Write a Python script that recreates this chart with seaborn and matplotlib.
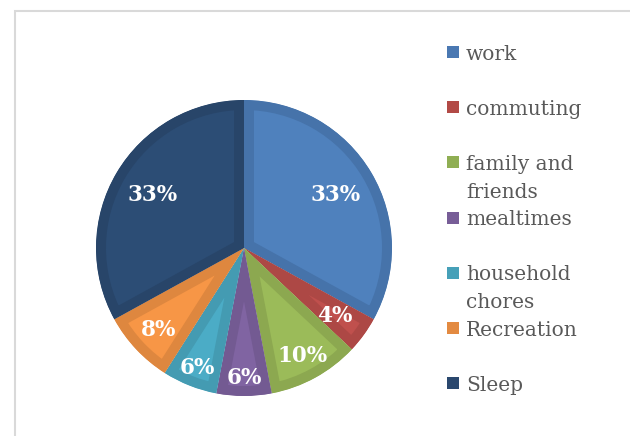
import numpy as np
import matplotlib
matplotlib.use("Agg")
import matplotlib.pyplot as plt
from matplotlib.patches import Rectangle
import seaborn as sns

# ---- data ----
categories = ["work", "commuting", "family and friends", "mealtimes",
              "household chores", "Recreation", "Sleep"]
legend_labels = ["work", "commuting", "family and\nfriends", "mealtimes",
                 "household\nchores", "Recreation", "Sleep"]
values = [33, 4, 10, 6, 6, 8, 33]

# ---- styles ----
inner_colors = ["#4F81BD", "#C0504D", "#9BBB59", "#8064A2",
                "#4BACC6", "#F79646", "#2C4D75"]
outer_colors = ["#4673AA", "#AD4845", "#8CA850", "#735A92",
                "#449BB2", "#DE873F", "#284569"]
legend_colors = ["#4A78B2", "#B24A46", "#8FAE53", "#775D97",
                 "#46A0B8", "#E38A41", "#2A486E"]
label_dist = [0.72, 0.76, 0.82, 0.87, 0.86, 0.79, 0.72]

sns.set_theme(style="white")
plt.rcParams["font.family"] = ["DejaVu Serif", "DejaVu Sans"]

W, H = 630, 436
fig = plt.figure(figsize=(W / 100, H / 100), dpi=100)
fig.patch.set_facecolor("white")

cx, cy, r = 244, 248, 148
ax = fig.add_axes([(cx - r) / W, (H - cy - r) / H, 2 * r / W, 2 * r / H])
ax.set_aspect("equal")

bevel_px = 10
wedges, texts, autotexts = ax.pie(
    values, colors=inner_colors, startangle=90, counterclock=False,
    radius=1.0, autopct="%1.0f%%", pctdistance=0.75,
    wedgeprops=dict(linewidth=2 * bevel_px * 0.72, joinstyle="miter"),
    textprops=dict(color="white", fontsize=15.5, fontweight="bold",
                   family=["DejaVu Serif"]))
for w, ec in zip(wedges, outer_colors):
    w.set_edgecolor(ec)
    w.set_clip_on(True)
    w.set_clip_path(w)

for w, t, d in zip(wedges, autotexts, label_dist):
    ang = np.deg2rad((w.theta1 + w.theta2) / 2)
    t.set_position((d * np.cos(ang), d * np.sin(ang) - 0.01))
    t.set_ha("center")
    t.set_va("center")

ax.set_xlim(-1.0, 1.0)
ax.set_ylim(-1.0, 1.0)
ax.axis("off")

# ---- legend (Excel style, uniform slots) ----
y0, step = 52, 55.2
sq = 12
for i, (lab, col) in enumerate(zip(legend_labels, legend_colors)):
    yc = y0 + i * step
    fig.add_artist(Rectangle((447 / W, 1 - (yc + sq / 2) / H), sq / W, sq / H,
                             transform=fig.transFigure, facecolor=col,
                             edgecolor="none"))
    lines = lab.split("\n")
    for j, ln in enumerate(lines):
        fig.text(466 / W, 1 - (yc + j * 28) / H, ln, ha="left",
                 va="center_baseline", fontsize=14.5, color="#595959",
                 family=["DejaVu Serif"])

# ---- chart border ----
fig.add_artist(Rectangle((14.5 / W, -0.2), 1.5, 1.2 - 10.5 / H,
                         transform=fig.transFigure, facecolor="none",
                         edgecolor="#D9D9D9", linewidth=1.5))

fig.savefig("out.png", dpi=100)
